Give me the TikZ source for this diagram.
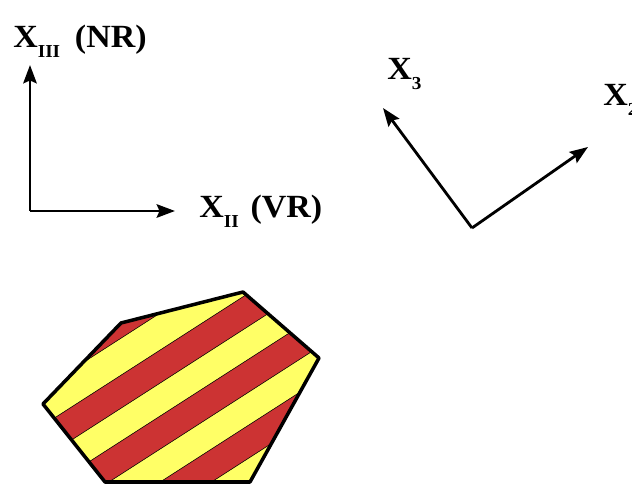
\documentclass[tikz,border=0pt]{standalone}
\usepackage{fontspec}
\setmainfont{Liberation Serif}
\usetikzlibrary{arrows.meta}
\definecolor{stripered}{RGB}{204,51,51}
\definecolor{stripeyellow}{RGB}{255,255,102}
\newcommand{\axislabel}[1]{\scalebox{1.05}[1]{#1}}
\newcommand{\sub}[1]{\raisebox{-0.3em}{\fontsize{13}{14}\selectfont #1}}
\tikzset{
    axis/.style={
        ->,line width=2pt
    },
    lbl/.style={
        anchor=base west,inner sep=0pt,font=\fontsize{23}{26}\selectfont\bfseries
    },
    band/.style={
        fill=stripered,draw=black,line width=0.4pt
    }
}

\begin{document}
\begin{tikzpicture}[x=0.025cm, y=-0.025cm, >={Stealth[length=13pt,width=9.5pt,inset=2pt]}]
\useasboundingbox (0,0) rectangle (632,484);
% left axes
\coordinate (o1) at (30,211);
\coordinate (t3) at (30,65);
\coordinate (t2) at (175,211);
\draw[axis] (o1) -- (t3);
\draw[axis] (o1) -- (t2);
\node[lbl] (lNR) at (13,48) {\axislabel{X\sub{III}\hspace{10pt}(NR)}};
\node[lbl] (lVR) at (199,218) {\axislabel{X\sub{II}\hspace{8pt}(VR)}};

% right axes
\coordinate (o2) at (472,228);
\coordinate (u3) at (383,108);
\coordinate (u2) at (588,147);
\draw[axis] (o2) -- (u3);
\draw[axis] (o2) -- (u2);
\node[lbl] (l3) at (387,80) {\axislabel{X\sub{3}}};
\node[lbl] (l2) at (603,106) {\axislabel{X\sub{2}}};

% striped polygon
\coordinate (pA) at (43,404);
\coordinate (pB) at (121,323);
\coordinate (pC) at (243,292);
\coordinate (pD) at (319,358);
\coordinate (pE) at (250,482);
\coordinate (pF) at (105,482);
\begin{scope}
\clip (pA) -- (pB) -- (pC) -- (pD) -- (pE) -- (pF) -- cycle;
\fill[stripeyellow] (0,250) rectangle (350,484);
\draw[band] (0,380) -- (350,155) -- (350,191) -- (0,416) -- cycle;
\foreach \c in {453,519,585}
    \draw[band] (0,\c) -- (350,{\c-225}) -- (350,{\c-192}) -- (0,{\c+33}) -- cycle;
\end{scope}
\draw[line width=2.5pt,line join=round] (pA) -- (pB) -- (pC) -- (pD) -- (pE) -- (pF) -- cycle;
\end{tikzpicture}
\end{document}
